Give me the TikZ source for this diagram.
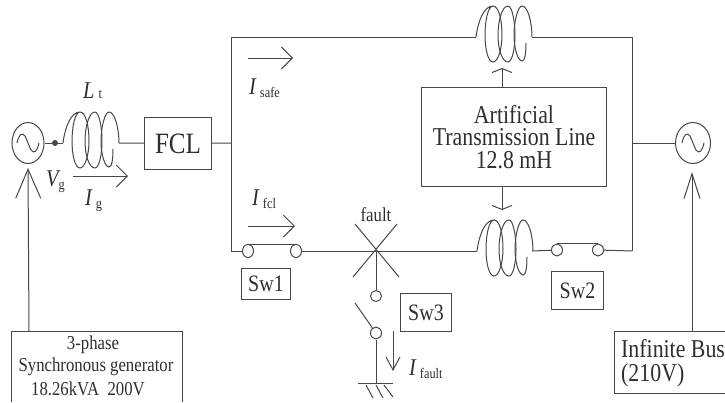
\documentclass[tikz,border=0pt]{standalone}
\usepackage{fontspec}
\setmainfont[FakeStretch=0.85]{Liberation Serif}
\usetikzlibrary{arrows.meta}
\usetikzlibrary{shapes.geometric}
\definecolor{wirecol}{gray}{0.28}
\definecolor{textcol}{gray}{0.18}
\newcommand{\cursub}[1]{{\fontsize{14.5}{16}\selectfont\upshape\raisebox{-3pt}{#1}}}
\tikzset{
  wire/.style={draw=wirecol, line width=1pt},
  flow/.style={wire, -{Straight Barb[length=11pt,width=22pt,line width=1pt]}},
  genflow/.style={wire, -{Straight Barb[length=29pt,width=25pt,line width=1pt]}},
  busflow/.style={wire, -{Straight Barb[length=25pt,width=16pt,line width=1pt]}},
  coilup/.style={wire, -{Straight Barb[length=4pt,width=20pt,line width=1pt]}},
  labelbox/.style={draw=wirecol, line width=1pt, inner sep=0pt, text=textcol, font=\fontsize{23.5}{22.5}\selectfont, anchor=north west},
  srccirc/.style={ellipse, draw=wirecol, line width=1pt, inner sep=0pt, minimum height=41pt, minimum width=#1},
  contact/.style={ellipse, draw=wirecol, line width=1pt, inner sep=0pt, minimum width=11pt, minimum height=13pt},
  txt/.style={text=textcol, inner sep=0pt},
  gentxt/.style={txt, font=\fontsize{19.7}{22}\selectfont},
  curlab/.style={txt, anchor=base west, font=\fontsize{24}{26}\selectfont\itshape},
  pics/coil/.style={code={
    \draw[wire] (0,0) .. controls (2,-16) and (8,-31) .. (17,-31)
      .. controls (23,-31) and (26,-16) .. (26,-2)
      .. controls (26,12) and (22,25) .. (17,25)
      .. controls (12,25) and (9,12) .. (9,-2)
      .. controls (9,-16) and (12,-31) .. (17,-31);
    \draw[wire] (32,-31) .. controls (36,-31) and (39,-16) .. (39,-2)
      .. controls (39,12) and (36,25) .. (32,25)
      .. controls (26,25) and (22,12) .. (22,-2)
      .. controls (22,-16) and (26,-31) .. (32,-31);
    \draw[wire] (56,0) .. controls (56,-14) and (52,-31) .. (46,-31)
      .. controls (42,-31) and (38,-16) .. (38,-2)
      .. controls (38,12) and (42,24) .. (46,24)
      .. controls (49,24) and (50,16) .. (50,6);
  }},
  pics/wave/.style={code={
    \draw[wire] (-11,0) .. controls (-9,-9) and (-6,-11) .. (-3,-7)
      .. controls (-1,-3) and (1,3) .. (3,7)
      .. controls (6,11) and (9,9) .. (11,0);
  }},
}
\begin{document}
\begin{tikzpicture}[x=1,y=-1]
\useasboundingbox (0,0) rectangle (725,402);

% sources
\node[srccirc=32pt] (vg) at (28,143) {};
\pic at (vg) {wave};
\node[srccirc=35pt] (bus) at (693,143) {};
\pic at (bus) {wave};
\node[circle, fill=wirecol, inner sep=0pt, minimum size=6pt] (dot) at (55,143) {};

% left coil and FCL
\coordinate (coilA) at (63,143);
\coordinate (coilAe) at (119,143);
\pic at (coilA) {coil};
\draw[wire] (vg) -- (dot) -- (coilA);
\node[labelbox, minimum width=67pt, minimum height=52pt] (fcl) at (144,117) {\fontsize{29.5}{31}\selectfont FCL};
\draw[wire] (coilAe) -- (fcl);

% loop
\coordinate (tl) at (231,37);
\coordinate (tr) at (632,37);
\coordinate (bl) at (231,251);
\coordinate (br) at (632,251);
\coordinate (ml) at (231,143);
\coordinate (mr) at (632,143);
\coordinate (coilB) at (476,37);
\coordinate (coilBe) at (532,37);
\pic at (coilB) {coil};
\draw[wire] (coilB) -- (tl) -- (bl);
\draw[wire] (coilBe) -- (tr) -- (br);
\draw[wire] (fcl) -- (ml);
\draw[wire] (mr) -- (bus);

% bottom line
\node[contact] (sw1a) at (248,251) {};
\node[contact] (sw1b) at (296,251) {};
\node[contact, minimum height=12pt] (sw2a) at (557,250) {};
\node[contact, minimum height=12pt] (sw2b) at (598,250) {};
\coordinate (coilC) at (477,251);
\coordinate (coilCe) at (532,251);
\pic at (coilC) {coil};
\coordinate (fault) at (376,251);
\draw[wire] (bl) -- (sw1a);
\draw[wire] (sw1a.north) -- (sw1b.north);
\draw[wire] (sw1b) -- (coilC);
\draw[wire] (coilCe) -- (sw2a);
\draw[wire] (sw2a.north) -- (sw2b.north);
\draw[wire] (sw2b) -- (br);

% fault and Sw3
\coordinate (xa) at (355,224);
\coordinate (xb) at (399,277);
\coordinate (xc) at (397,224);
\coordinate (xd) at (353,277);
\draw[wire] (xa) -- (xb);
\draw[wire] (xc) -- (xd);
\node[contact, minimum width=11pt, minimum height=11pt] (sw3a) at (376,296) {};
\node[contact, minimum width=11pt, minimum height=12pt] (sw3b) at (376,333) {};
\coordinate (blade) at (355,303);
\coordinate (gnd) at (376,383);
\coordinate (gl) at (358,383);
\coordinate (gr) at (393,383);
\draw[wire] (fault) -- (sw3a);
\draw[wire] (blade) -- (sw3b);
\draw[wire] (sw3b) -- (gnd);
\draw[wire] (gl) -- (gr);
\draw[wire] (366,385) -- (373,398);
\draw[wire] (376,385) -- (383,398);
\draw[wire] (384,385) -- (393,397);

% labels on boxes
\node[labelbox, minimum width=49pt, minimum height=31pt] (sw1) at (241,268) {Sw1};
\node[labelbox, minimum width=51pt, minimum height=38pt] (sw3) at (400,293) {Sw3};
\node[labelbox, minimum width=52pt, minimum height=38pt] (sw2) at (551,271) {Sw2};

% transmission line box
\node[labelbox, minimum width=185pt, minimum height=99pt, align=center, font=\fontsize{25.7}{22.5}\selectfont] (atl) at (421,87) {Artificial\\Transmission Line\\12.8 mH};
\coordinate (atlt) at (502,87);
\coordinate (atlb) at (502,186);
\coordinate (tipt) at (502,68);
\coordinate (tipb) at (502,210);
\draw[coilup] (atlt) -- (tipt);
\draw[coilup] (atlb) -- (tipb);

% generator box
\coordinate (ga) at (11,402);
\coordinate (gb) at (11,331);
\coordinate (gc) at (182,331);
\coordinate (gd) at (182,402);
\draw[wire] (ga) -- (gb) -- (gc) -- (gd);
\node[gentxt] (gtxa) at (93,345) {3-phase};
\node[gentxt] (gtxb) at (96,367) {Synchronous generator};
\node[gentxt] (gtxc) at (88,389) {18.26kVA\ \ 200V};
\coordinate (gout) at (29,331);
\coordinate (gtip) at (28,168);
\draw[genflow] (gout) -- (gtip);

% infinite bus box
\coordinate (ia) at (725,331);
\coordinate (ib) at (614,331);
\coordinate (ic) at (614,393);
\coordinate (id) at (725,393);
\draw[wire] (ia) -- (ib) -- (ic) -- (id);
\node[txt, anchor=base west, font=\fontsize{25.7}{28}\selectfont] (itxa) at (621,357) {Infinite Bus};
\node[txt, anchor=base west, font=\fontsize{25.7}{28}\selectfont] (itxb) at (621,381) {(210V)};
\coordinate (iout) at (692,331);
\coordinate (itip) at (692,172);
\draw[busflow] (iout) -- (itip);

% currents
\coordinate (ga1) at (73,176);
\coordinate (ga2) at (128,176);
\draw[flow] (ga1) -- (ga2);
\coordinate (sa1) at (248,58);
\coordinate (sa2) at (293,58);
\draw[flow] (sa1) -- (sa2);
\coordinate (fa1) at (248,226);
\coordinate (fa2) at (295,226);
\draw[flow] (fa1) -- (fa2);
\coordinate (qa1) at (393,331);
\coordinate (qa2) at (393,371);
\draw[wire, -{Straight Barb[length=13pt,width=14pt,line width=1pt]}] (qa1) -- (qa2);

\node[curlab] (lt) at (83,98) {L\,\cursub{\raisebox{3pt}{t}}};
\node[curlab] (vgl) at (46,186) {V\cursub{g}};
\node[curlab] (ig) at (85,205) {I\,\cursub{g}};
\node[curlab] (isafe) at (249,94) {I\,\cursub{safe}};
\node[curlab] (ifcl) at (252,205) {I\,\cursub{fcl}};
\node[curlab] (ifault) at (409,375) {I\,\cursub{fault}};
\node[gentxt] (ftxt) at (376,215) {fault};
\end{tikzpicture}
\end{document}
